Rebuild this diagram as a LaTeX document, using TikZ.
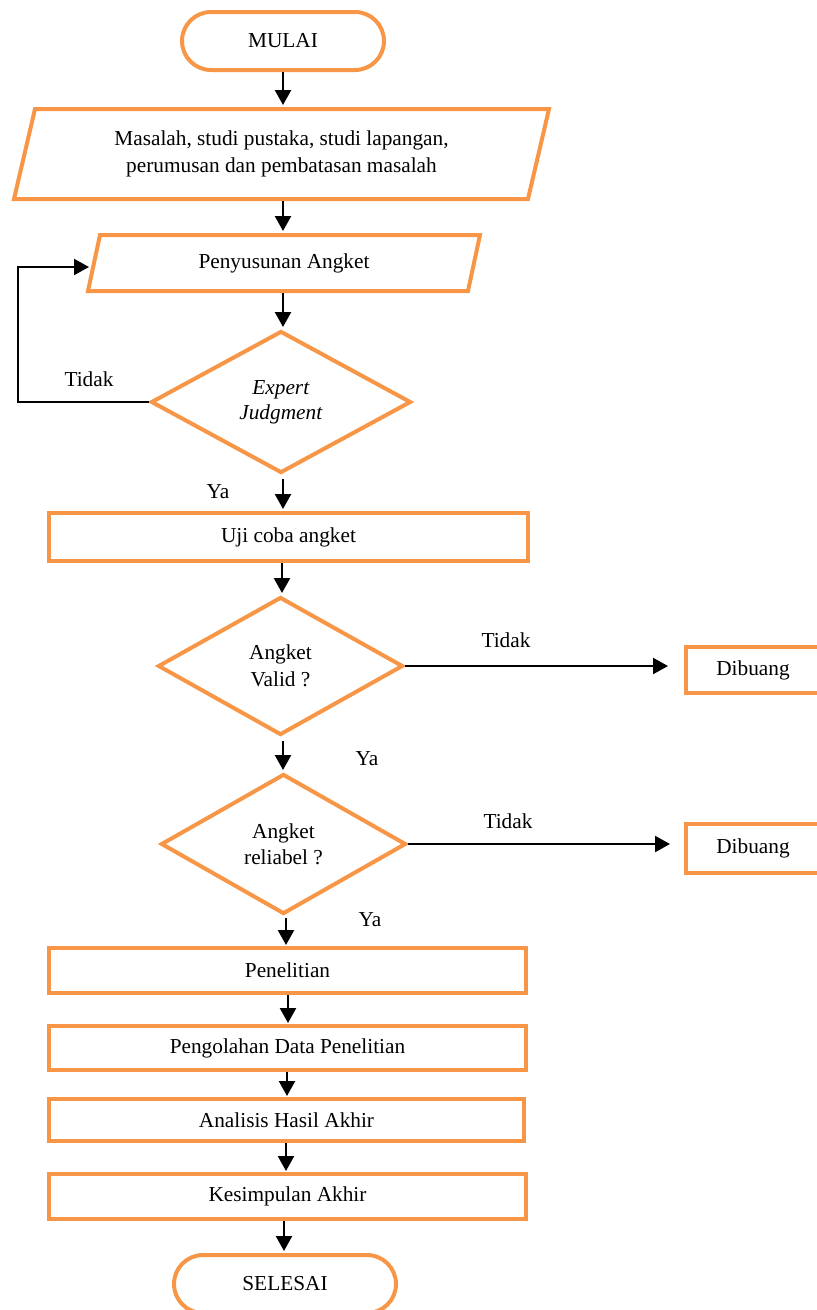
\documentclass[tikz,border=0pt]{standalone}
\usepackage{fontspec}
\setmainfont{Liberation Serif}
\usetikzlibrary{shapes.geometric,arrows.meta,calc}
\definecolor{og}{HTML}{F79646}
\begin{document}
\begin{tikzpicture}[x=1pt,y=-1pt,
  font=\fontsize{21.3}{26.5}\selectfont,
  shp/.style={draw=og,line width=4pt,inner sep=0pt,align=center},
  term/.style={shp,rectangle,rounded corners=29pt},
  proc/.style={shp,rectangle},
  dec/.style={shp,diamond},
  io/.style={inner sep=0pt,outer sep=0pt,align=center},
  ioline/.style={draw=og,line width=4pt,line join=miter},
  arr/.style={-{Triangle[length=15pt,width=16pt]},line width=2.3pt,black},
  lbl/.style={inner sep=0pt}
]
\useasboundingbox (0,0) rectangle (817,1310);
\clip (0,0) rectangle (817,1310);

% nodes
\node[term,minimum width=202pt,minimum height=58pt] (mul) at (283,41) {MULAI};
\node[io,minimum width=535pt,minimum height=90pt] (mas) at (281.5,154)
  {Masalah, studi pustaka, studi lapangan,\\perumusan dan pembatasan masalah};
\draw[ioline] ($(mas.north west)+(21,0)$) -- (mas.north east) -- ($(mas.south east)-(21,0)$) -- (mas.south west) -- cycle;
\node[io,minimum width=392pt,minimum height=56pt] (pen) at (284,263) {Penyusunan Angket};
\draw[ioline] ($(pen.north west)+(12,0)$) -- (pen.north east) -- ($(pen.south east)-(12,0)$) -- (pen.south west) -- cycle;
\node[dec,minimum width=260pt,minimum height=142pt] (ej) at (281,402) {\textit{Expert}\\[-1.5pt]\textit{Judgment}};
\node[proc,minimum width=479pt,minimum height=48pt] (uji) at (288.5,537) {Uji coba angket};
\node[dec,minimum width=245pt,minimum height=138pt] (val) at (280.5,666) {Angket\\Valid ?};
\node[proc,minimum width=134pt,minimum height=46pt] (db1) at (753,670) {Dibuang};
\node[dec,minimum width=245pt,minimum height=140pt] (rel) at (283.5,844) {Angket\\reliabel ?};
\node[proc,minimum width=134pt,minimum height=49pt] (db2) at (753,848.5) {Dibuang};
\node[proc,minimum width=477pt,minimum height=45pt] (pnl) at (287.5,970.5) {Penelitian};
\node[proc,minimum width=477pt,minimum height=44pt] (peng) at (287.5,1048) {Pengolahan Data Penelitian};
\node[proc,minimum width=475pt,minimum height=42pt] (ana) at (286.5,1120) {Analisis Hasil Akhir};
\node[proc,minimum width=477pt,minimum height=45pt] (kes) at (287.5,1196.5) {Kesimpulan Akhir};
\node[term,minimum width=222pt,minimum height=58pt] (sel) at (285,1284) {SELESAI};

% labels
\node[lbl] (t1) at (89,379) {Tidak};
\node[lbl] (y1) at (218,492) {Ya};
\node[lbl] (t2) at (506,640) {Tidak};
\node[lbl] (y2) at (367,759) {Ya};
\node[lbl] (t3) at (508,821) {Tidak};
\node[lbl] (y3) at (370,920) {Ya};

% connectors
\draw[arr,shorten >=4pt] (mul.south) -- (mul.south |- mas.north);
\draw[arr,shorten <=2pt,shorten >=4pt] (283,0 |- mas.south) -- (283,0 |- pen.north);
\draw[arr,shorten <=2pt,shorten >=2pt] (283,0 |- pen.south) -- (283,0 |- ej.north);
\draw[arr,shorten <=4pt,shorten >=2pt] (283,0 |- ej.south) -- (283,0 |- uji.north);
\draw[arr,shorten >=2pt] (282,0 |- uji.south) -- (282,0 |- val.north);
\draw[arr,shorten <=4pt,shorten >=2pt] (283,0 |- val.south) -- (283,0 |- rel.north);
\draw[arr,shorten <=2pt,shorten >=1pt] (286,0 |- rel.south) -- (286,0 |- pnl.north);
\draw[arr,shorten >=1pt] (288,0 |- pnl.south) -- (288,0 |- peng.north);
\draw[arr,shorten >=1pt] (287,0 |- peng.south) -- (287,0 |- ana.north);
\draw[arr,shorten >=1pt] (286,0 |- ana.south) -- (286,0 |- kes.north);
\draw[arr,shorten >=2pt] (284,0 |- kes.south) -- (284,0 |- sel.north);
\draw[arr,shorten >=16pt] (val.east) -- (val.east -| db1.west);
\draw[arr,shorten >=14pt] (rel.east) -- (rel.east -| db2.west);
\coordinate (lp) at (18,267);
\coordinate (pin) at (89,267);
\draw[arr,line width=2pt] (ej.west) -| (lp) -- (pin);
\end{tikzpicture}
\end{document}
